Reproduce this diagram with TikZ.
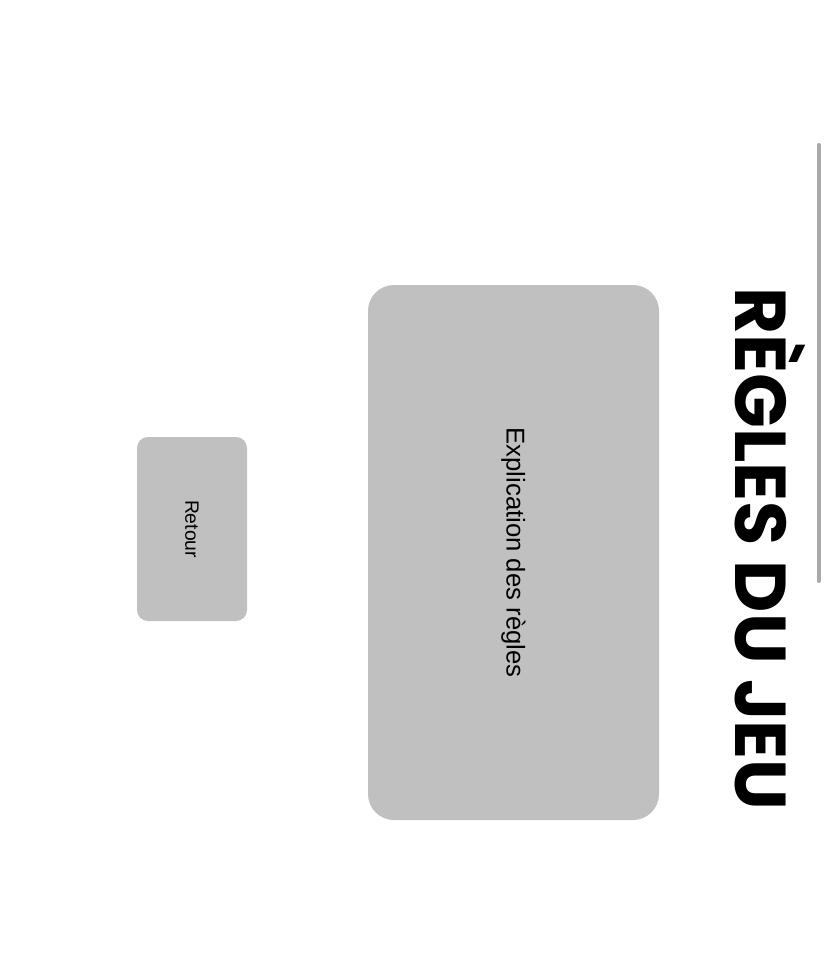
\documentclass[tikz,border=0pt]{standalone}
\usepackage{fontspec}
\setmainfont{Liberation Sans}
\newfontfamily\titlefont{Poppins}
\usetikzlibrary{positioning}
\definecolor{btngray}{HTML}{C0C0C0}
\definecolor{bargray}{HTML}{A9A9A9}
\tikzset{
  button/.style={fill=btngray, rounded corners=#1, rotate=-90, inner sep=0pt},
  button/.default=12pt
}

\begin{document}
\begin{tikzpicture}[x=1pt, y=-1pt]
  \useasboundingbox [fill=white] (0, 0) rectangle (828, 968);

  % title and scrollbar
  \node (title) [rotate=-90, inner sep=0pt] at (770, 549) {\titlefont\bfseries\fontsize{72}{74}\selectfont RÈGLES DU JEU};
  \draw [bargray, line width=4pt, line cap=round] (818.5, 145) coordinate (bartop) -- (818.5, 581) coordinate (barbot);

  % buttons
  \node (rules) [button=26pt, minimum width=535pt, minimum height=291pt] at (513.5, 552.5) {\fontsize{25.7}{28}\selectfont Explication des règles};
  \node (back) [button=11pt, minimum width=184pt, minimum height=110pt] at (192, 529) {\fontsize{19.3}{22}\selectfont Retour};
\end{tikzpicture}
\end{document}
